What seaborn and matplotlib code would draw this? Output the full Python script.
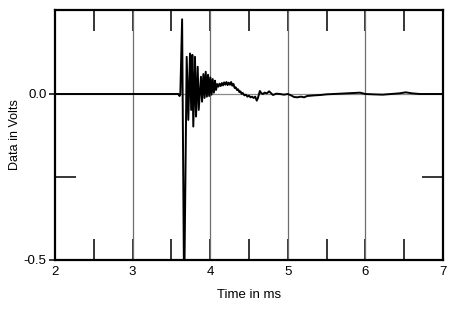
import matplotlib
matplotlib.use("Agg")
import matplotlib.pyplot as plt
from matplotlib.ticker import MultipleLocator, FixedLocator
import seaborn as sns
import pandas as pd

# Impulse response (time in ms, voltage in V)
time_ms = [2.000, 3.590, 3.605, 3.615, 3.638, 3.664,
           3.697, 3.718, 3.740, 3.755, 3.770, 3.782, 3.804, 3.817, 3.839, 3.852,
           3.881, 3.895, 3.912, 3.927, 3.942, 3.957, 3.972, 3.987, 4.002, 4.017,
           4.032, 4.047, 4.062, 4.075,
           4.090, 4.105, 4.120, 4.135, 4.150, 4.165, 4.180, 4.195, 4.210, 4.225,
           4.240, 4.255, 4.270, 4.285, 4.300, 4.315, 4.330, 4.345, 4.360, 4.375,
           4.390, 4.405, 4.420, 4.440, 4.460, 4.480, 4.500, 4.520, 4.540, 4.560,
           4.580, 4.600, 4.615, 4.640, 4.660, 4.680, 4.700, 4.730, 4.760, 4.790,
           4.810, 4.850, 4.900, 4.950, 5.000, 5.040, 5.080, 5.120, 5.170, 5.210,
           5.250, 5.300, 5.350, 5.420, 5.500, 5.590, 5.680, 5.760, 5.850, 5.930,
           6.000, 6.100, 6.220, 6.330, 6.440, 6.520, 6.600, 6.700, 6.850, 7.000]
volts = [0.000, 0.000, -0.006, 0.000, 0.225, -0.620,
         0.112, -0.078, 0.122, -0.048, 0.118, -0.098, 0.112, -0.068, 0.082, -0.048,
         0.052, -0.023, 0.060, -0.012, 0.067, -0.008, 0.058, -0.006, 0.050, -0.002,
         0.045, 0.004, 0.040, 0.012,
         0.030, 0.022, 0.031, 0.024, 0.033, 0.026, 0.035, 0.028, 0.036, 0.027,
         0.034, 0.028, 0.036, 0.025, 0.030, 0.018, 0.020, 0.012, 0.014, 0.006,
         0.008, 0.000, 0.003, -0.004, -0.002, -0.008, -0.005, -0.010, -0.008, -0.012,
         -0.008, -0.020, -0.012, 0.009, 0.002, 0.000, 0.004, 0.002, 0.008, 0.001,
         -0.003, 0.001, 0.000, -0.002, 0.000, -0.004, -0.009, -0.010, -0.008, -0.010,
         -0.006, -0.005, -0.004, -0.003, -0.001, 0.000, 0.001, 0.002, 0.003, 0.004,
         0.000, -0.001, -0.002, 0.000, 0.002, 0.005, 0.002, 0.000, 0.000, 0.000]

x_ticks = [2, 3, 4, 5, 6, 7]
x_tick_labels = ["2", "3", "4", "5", "6", "7"]
y_ticks = [-0.5, 0.0]
y_tick_labels = ["-0.5", "0.0"]

df = pd.DataFrame({"Time in ms": time_ms, "Data in Volts": volts})

sns.set_style("white")
plt.rcParams["font.family"] = ["Liberation Sans", "DejaVu Sans"]
plt.rcParams["text.color"] = "black"
plt.rcParams["axes.labelcolor"] = "black"
plt.rcParams["xtick.color"] = "black"
plt.rcParams["ytick.color"] = "black"

fig = plt.figure(figsize=(4.5, 3.12), dpi=100)
ax = fig.add_axes([55 / 450, 1 - 260 / 312, (443 - 55) / 450, (260 - 10) / 312])

# grid lines
for gx in [3, 4, 5, 6]:
    ax.axvline(gx, color="#6e6e6e", lw=0.9, zorder=1)
ax.axhline(0, color="#8a8a8a", lw=0.9, zorder=1)

sns.lineplot(data=df, x="Time in ms", y="Data in Volts", ax=ax,
             color="black", lw=1.4, sort=False, estimator=None, zorder=3)

ax.set_xlim(2, 7)
ax.set_ylim(-0.5, 0.253)

ax.xaxis.set_major_locator(FixedLocator(x_ticks))
ax.set_xticklabels(x_tick_labels)
ax.xaxis.set_minor_locator(MultipleLocator(0.5))
ax.yaxis.set_major_locator(FixedLocator(y_ticks))
ax.set_yticklabels(y_tick_labels)
ax.yaxis.set_minor_locator(FixedLocator([-0.25]))

ax.tick_params(axis="x", which="both", direction="in", length=15, width=1.1,
               top=True, bottom=True, color="black", labelcolor="black",
               labelsize=9.5, pad=4)
ax.tick_params(axis="y", which="major", direction="out", length=4, width=1.1,
               left=True, right=False, color="black", labelcolor="black",
               labelsize=9.5, pad=2)
ax.tick_params(axis="y", which="minor", direction="in", length=15, width=1.1,
               left=True, right=True, color="black")

for s in ax.spines.values():
    s.set_linewidth(1.6)
    s.set_color("black")
    s.set_zorder(4)

ax.set_xlabel("Time in ms", fontsize=9.5, labelpad=8, color="black")
ax.set_ylabel("Data in Volts", fontsize=9, labelpad=2, color="black")

fig.savefig("out.png", dpi=100)
